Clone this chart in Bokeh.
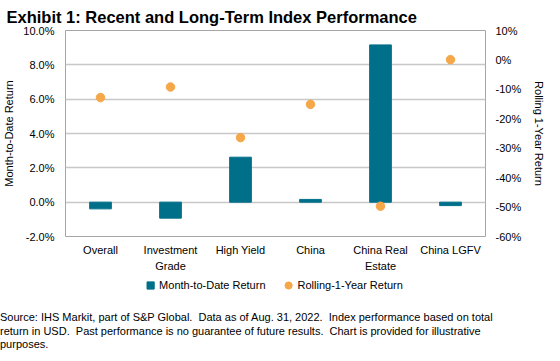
from bokeh.plotting import figure
from bokeh.layouts import column
from bokeh.models import (ColumnDataSource, Range1d, LinearAxis, CategoricalAxis,
                          FixedTicker, PrintfTickFormatter, Legend, LegendItem, Div,
                          CustomJSTickFormatter)
from bokeh.embed import file_html
from bokeh.resources import INLINE

categories = ["Overall", "Investment Grade", "High Yield", "China",
              "China Real Estate", "China LGFV"]
label_line1 = ["Overall", "Investment", "High Yield", "China", "China Real", "China LGFV"]
label_line2 = ["", "Grade", "", "", "Estate", ""]
mtd_return = [-0.39, -0.93, 2.62, 0.16, 9.16, -0.20]
rolling_1y = [-12.8, -9.2, -26.4, -15.1, -49.7, 0.1]
left_ticks = [-2, 0, 2, 4, 6, 8, 10]
right_ticks = [-60, -50, -40, -30, -20, -10, 0, 10]
footer = ["Source: IHS Markit, part of S&amp;P Global.&nbsp; Data as of Aug. 31, 2022.&nbsp; Index performance based on total",
          "return in USD.&nbsp; Past performance is no guarantee of future results.&nbsp; Chart is provided for illustrative",
          "purposes."]

TEAL = "#006f8a"
ORANGE = "#f4a84a"
FONT = "Liberation Sans"

src = ColumnDataSource(dict(cat=categories, mtd=mtd_return, roll=rolling_1y))

p = figure(x_range=categories, y_range=Range1d(-2, 10),
           frame_width=420, frame_height=206,
           output_backend="svg", toolbar_location=None,
           min_border_left=59, min_border_right=65, min_border_top=0,
           min_border_bottom=0)
p.extra_y_ranges = {"roll": Range1d(-60, 10)}

p.title.text = "Exhibit 1: Recent and Long-Term Index Performance"
p.title.text_font = FONT
p.title.text_font_size = "16.5px"
p.title.text_font_style = "bold"
p.title.text_color = "#000000"
p.title.align = "left"
p.title.offset = -59

bars = p.vbar(x="cat", top="mtd", bottom=0, width=0.31, source=src,
              fill_color=TEAL, line_color=TEAL)
dots = p.scatter(x="cat", y="roll", source=src, y_range_name="roll",
                 size=8.5, fill_color=ORANGE, line_color=ORANGE)

p.outline_line_color = "#a6a6a6"
p.xgrid.grid_line_color = None
p.ygrid.grid_line_color = "#c8c8c8"
p.ygrid.grid_line_width = 1.5

yl = p.yaxis[0]
yl.ticker = FixedTicker(ticks=left_ticks)
yl.formatter = PrintfTickFormatter(format="%.1f%%")
yl.axis_label = "Month-to-Date Return"
yl.axis_label_standoff = 5
yl.major_label_standoff = 11
yr = LinearAxis(y_range_name="roll", ticker=FixedTicker(ticks=right_ticks),
                formatter=PrintfTickFormatter(format="%d%%"),
                axis_label="Rolling 1-Year Return")
yr.axis_label_standoff = 9
yr.major_label_standoff = 10
p.add_layout(yr, "right")

xa = p.xaxis[0]
xa.formatter = CustomJSTickFormatter(args=dict(cats=categories, labs=label_line1),
                                     code="return labs[cats.indexOf(tick)];")
xa.major_label_standoff = 7
xb = CategoricalAxis(formatter=CustomJSTickFormatter(args=dict(cats=categories, labs=label_line2),
                                                     code="return labs[cats.indexOf(tick)];"))
xb.major_label_standoff = 1
p.add_layout(xb, "below")

for ax in [yl, yr, xa, xb]:
    ax.axis_label_text_font = FONT
    ax.axis_label_text_font_size = "11px"
    ax.axis_label_text_font_style = "normal"
    ax.axis_label_text_color = "#000000"
    ax.major_label_text_font = FONT
    ax.major_label_text_font_size = "11px"
    ax.major_label_text_color = "#000000"
    ax.axis_line_color = None
    ax.major_tick_line_color = None
    ax.minor_tick_line_color = None
    ax.major_tick_out = 0
    ax.major_tick_in = 0

# legend strip (separate small figure); proxy points lie outside its visible range
lg = figure(width=544, height=22, output_backend="svg", toolbar_location=None,
            x_range=Range1d(0, 1), y_range=Range1d(0, 1),
            min_border_left=59, min_border_right=65, min_border_top=0,
            min_border_bottom=0, outline_line_color=None)
lg.axis.visible = False
lg.grid.visible = False
leg_sq = lg.scatter(x=[-5], y=[-5], marker="square", size=7, fill_color=TEAL, line_color=TEAL)
leg_ci = lg.scatter(x=[-5], y=[-5], marker="circle", size=7, fill_color=ORANGE, line_color=ORANGE)
legend = Legend(items=[LegendItem(label="Month-to-Date Return", renderers=[leg_sq]),
                       LegendItem(label="Rolling-1-Year Return", renderers=[leg_ci])],
                orientation="horizontal", location="center",
                label_text_font=FONT, label_text_font_size="11px",
                label_text_color="#000000",
                glyph_width=18, glyph_height=18, label_standoff=0, spacing=14,
                border_line_color=None, background_fill_alpha=0,
                padding=0, margin=0)
lg.add_layout(legend, "center")

div = Div(text="<br>".join(footer), width=544, margin=(0, 0, 0, 0),
          styles={"font-family": FONT, "font-size": "11px", "line-height": "13.7px",
                  "color": "#000000", "padding-top": "15px", "white-space": "nowrap"})

layout = column(p, lg, div, spacing=0)

open("out.html", "w").write(file_html(layout, INLINE))
